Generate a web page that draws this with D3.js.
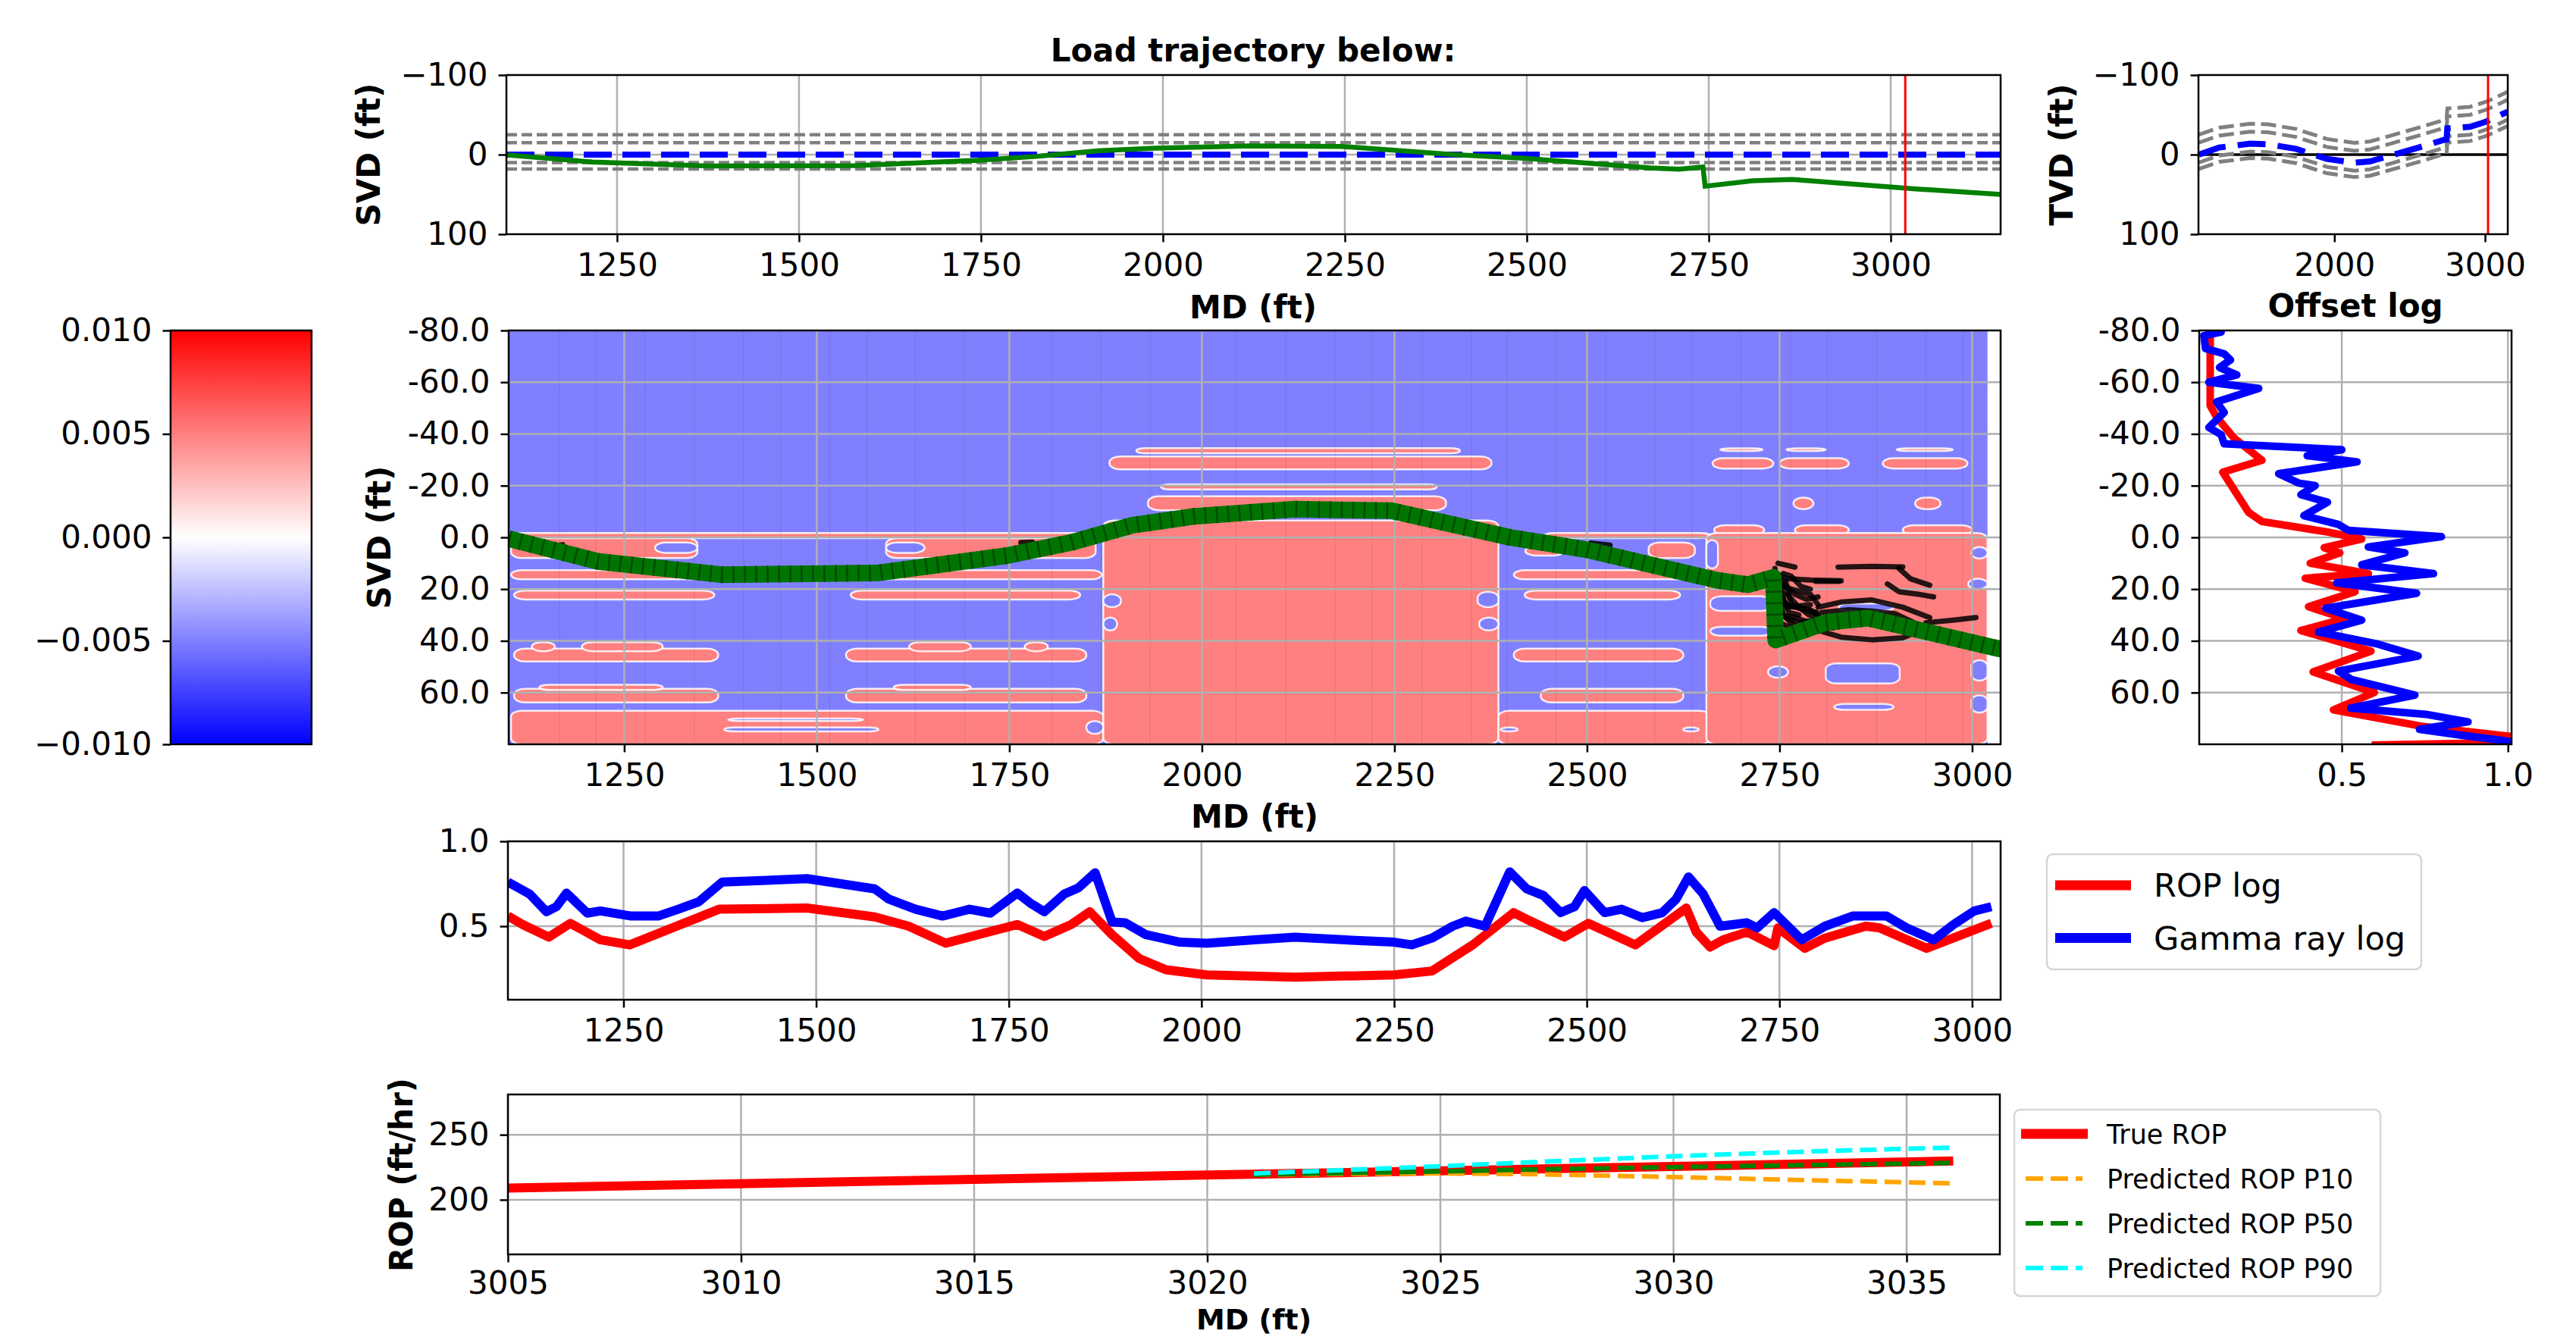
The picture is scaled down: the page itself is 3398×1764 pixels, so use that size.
<!DOCTYPE html>
<html>
<head>
<meta charset="utf-8">
<script src="https://cdn.jsdelivr.net/npm/d3@7"></script>
<style>
  body { margin: 0; background: #fff; }
  text { font-family: "DejaVu Sans", sans-serif; }
</style>
</head>
<body>
<svg id="chart" width="3398" height="1764"></svg>
<script>
// ---------------- data ----------------
// well trajectory, [MD ft, SVD ft]
const trajectory = [[1100,0.5],[1216,9.3],[1376,14.4],[1578,13.8],[1746,7.1],[1830,2],[1910,-4.7],[1989,-8.1],
  [2120,-10.9],[2246,-10.3],[2400,0],[2500,4.8],[2669,16.6],[2709,18.3],[2742,15.5],[2745,39.7],[2810,32.9],
  [2865,31.2],[3034,43],[3151,50]];
// layer boundaries, relative to target layer (ft)
const boundaryOffsets = [-25, -15, 10, 18];
// target layer TVD, [MD, TVD]
const targetTVD = [[1100,0],[1235,-8.9],[1440,-13.7],[1560,-13],[1745,-7.3],[1950,5.4],[2133,10.2],[2235,8.6],
  [2355,2.2],[2560,-8.9],[2725,-18.4],[2745,-19],[2750,-33],[2900,-35],[3000,-41],[3050,-45],[3151,-54]];
const bitMD = 3020;

// colour bar
const cbTicks = [0.01, 0.005, 0, -0.005, -0.01];

// earth model image, [MD0, MD1, SVD0, SVD1, value]
const modelBackground = [1100, 3020, -80, 80, -0.01];
const modelCells = [
  [1103,1860,-1.7,0.3,0.01],[1103,1345,0.3,8,0.01],[1590,1862,0.3,8,0.01],[1103,1870,12.7,16.2,0.01],
  [1107,1367,20.6,24,0.01],[1544,1842,20.6,24,0.01],[1107,1372,43,48,0.01],[1130,1160,40.5,44,0.01],
  [1195,1300,40.5,44,0.01],[1538,1850,43,48,0.01],[1620,1700,40.5,44,0.01],[1770,1800,40.5,44,0.01],
  [1107,1372,58.5,63.8,0.01],[1140,1300,57,59,0.01],[1538,1850,58.5,63.8,0.01],[1600,1700,57,59,0.01],
  [1103,1872,67,80,0.01],
  [1915,2335,-34.5,-32.5,0.01],[1880,2376,-31.3,-26.3,0.01],[1947,2305,-20.5,-18.5,0.01],
  [1930,2317,-15.9,-10.5,0.01],[1872,2385,-6.5,80,0.01],
  [2445,2660,-1.7,0.3,0.01],[2420,2470,3.5,7,0.01],[2580,2640,2,8,0.01],[2405,2670,12.7,16.2,0.01],
  [2419,2621,20.6,24,0.01],[2405,2625,43,48,0.01],[2440,2625,58.5,63.8,0.01],[2385,2660,67,80,0.01],
  [2673,2728,-34.4,-33.4,0.01],[2759,2810,-34.4,-33.4,0.01],[2902,2975,-34.4,-33.4,0.01],
  [2663,2742,-30.6,-26.6,0.01],[2750,2840,-30.6,-26.6,0.01],[2884,2994,-30.6,-26.6,0.01],
  [2768,2794,-15.4,-10.9,0.01],[2926,2959,-15.4,-10.9,0.01],
  [2665,2730,-4.7,-1,0.01],[2770,2840,-4.7,-1,0.01],[2910,3000,-4.7,-1,0.01],[2655,3020,-1.7,80,0.01],
  [1290,1345,2,6,-0.01],[1590,1640,2,6,-0.01],[1385,1560,70,71,-0.01],[1380,1580,73.5,75,-0.01],
  [1850,1872,71,76,-0.01],[1872,1895,22,27,-0.01],[1872,1890,31,36,-0.01],[2358,2385,21,27,-0.01],
  [2360,2385,31,36,-0.01],[2388,2410,73.5,75,-0.01],[2625,2645,73.5,75,-0.01],[2655,2670,1,12,-0.01],
  [2660,2740,22.8,28.4,-0.01],[2660,2740,34.6,38,-0.01],[2810,2906,48.7,56.5,-0.01],
  [2821,2898,64.4,66.7,-0.01],[2735,2761,49.8,54.3,-0.01],[2827,2898,25.6,28.4,-0.01],
  [2999,3020,3.7,8.2,-0.01],[2995,3020,16,20,-0.01],[2999,3020,47.5,55.4,-0.01],[2999,3020,61,67.8,-0.01]
];
const columnEdges = [1166,1213,1277,1341,1405,1453,1517,1565,1628,1692,1805,1869,1933,2044,2109,2173,2221,
  2286,2350,2396,2460,2524,2588,2636,2700,2764,2812,2876,2940,2988];

// candidate trajectories drawn in black
const ensembleLines = [
  [[2744,12],[2748,22],[2755,30],[2768,34]],
  [[2746,14],[2760,16],[2790,16.5],[2830,16.8]],
  [[2746,18],[2765,20],[2790,22],[2800,26]],
  [[2747,25],[2770,27],[2790,28],[2800,30]],
  [[2748,30],[2770,31],[2800,34],[2820,35]],
  [[2746,15],[2752,22],[2760,27],[2790,26]],
  [[2747,20],[2756,18],[2770,22],[2785,24],[2800,23]],
  [[2749,28],[2758,31],[2775,33],[2795,32]],
  [[2750,33],[2765,35],[2785,36],[2800,35]],
  [[2755,14],[2765,15],[2778,19],[2790,20]],
  [[2760,22],[2772,26],[2788,30],[2802,31]],
  [[2748,10],[2770,11.5]],
  [[2797,17],[2827,17]],
  [[2826,11.5],[2870,11.2],[2910,11.4]],
  [[2800,27],[2830,25],[2870,24.2],[2910,27],[2945,31]],
  [[2805,29],[2840,28],[2870,28.5],[2900,29.5],[2925,33]],
  [[2795,35.5],[2830,38.6],[2870,39.6],[2910,38.8],[2940,35]],
  [[2905,12],[2920,16],[2945,18.5]],
  [[2890,18],[2905,21],[2930,22],[2950,23]],
  [[2940,33],[2975,32],[3005,31]],
  [[2752,16],[2755,24],[2762,29],[2775,30]],
  [[2758,17],[2765,26],[2780,28],[2798,29]],
  [[1150,2],[1160,3.5],[1170,2.8]],
  [[1155,5],[1162,6]],
  [[1765,2],[1780,1.8]],
  [[1795,5],[1810,4.5]],
  [[2505,2.2],[2530,3]]
];

// offset logs, [SVD, value]
const offsetRop = [[-80,0.104],[-51,0.104],[-46.6,0.123],[-38.5,0.175],[-29.8,0.26],[-25.2,0.142],[-9.6,0.22],
  [-6.1,0.26],[-2.1,0.457],[0.6,0.56],[4,0.447],[6,0.494],[10,0.405],[14,0.58],[15.8,0.39],[21,0.54],
  [26.8,0.40],[31.4,0.51],[36,0.377],[44,0.588],[52,0.414],[60,0.598],[66.7,0.475],[73,0.74],[77,1.01],
  [78.8,1.2],[80.3,0.59]];
const offsetGamma = [[-79.4,0.137],[-78,0.085],[-73,0.09],[-71,0.146],[-68.6,0.165],[-65.7,0.132],[-62.8,0.184],
  [-60,0.1],[-57.6,0.25],[-52.4,0.123],[-48.3,0.146],[-42.5,0.1],[-39.7,0.137],[-36.2,0.146],[-33.9,0.5],
  [-31.6,0.396],[-29.2,0.546],[-24.6,0.31],[-21,0.37],[-20,0.42],[-16.5,0.377],[-13.6,0.457],[-8.4,0.386],
  [-5,0.49],[-2.7,0.52],[-0.3,0.8],[3.7,0.58],[6,0.69],[10.6,0.56],[14,0.776],[17.6,0.485],[21.6,0.725],
  [27.4,0.452],[32,0.56],[36.6,0.43],[41.3,0.61],[45.9,0.73],[51.7,0.49],[55,0.53],[58,0.626],[61,0.72],
  [66,0.527],[68.4,0.753],[71.3,0.88],[74.2,0.734],[76.5,0.86],[78.8,1.0],[80,1.0]];

// logs along the well, [MD, value]
const ropLog = [[1100,0.56],[1119,0.51],[1153,0.436],[1181,0.517],[1220,0.42],[1258,0.39],[1374,0.6],[1488,0.607],
  [1576,0.555],[1620,0.5],[1668,0.4],[1761,0.51],[1796,0.44],[1831,0.51],[1855,0.585],[1884,0.45],[1919,0.31],
  [1954,0.243],[2007,0.213],[2121,0.2],[2250,0.213],[2299,0.236],[2352,0.39],[2405,0.58],[2427,0.53],
  [2471,0.436],[2502,0.517],[2563,0.39],[2629,0.607],[2642,0.466],[2660,0.377],[2677,0.42],[2708,0.466],
  [2743,0.385],[2748,0.49],[2783,0.37],[2809,0.43],[2862,0.5],[2880,0.49],[2941,0.37],[3025,0.517]];
const gammaLog = [[1100,0.76],[1128,0.69],[1150,0.585],[1163,0.615],[1176,0.695],[1203,0.577],[1220,0.59],
  [1260,0.56],[1295,0.56],[1321,0.6],[1348,0.645],[1378,0.76],[1488,0.78],[1576,0.72],[1594,0.66],[1629,0.6],
  [1664,0.56],[1699,0.6],[1726,0.577],[1761,0.695],[1778,0.636],[1796,0.585],[1822,0.69],[1840,0.725],
  [1862,0.815],[1884,0.525],[1901,0.52],[1928,0.45],[1972,0.406],[2007,0.40],[2068,0.42],[2121,0.435],
  [2211,0.414],[2250,0.406],[2273,0.39],[2299,0.43],[2326,0.5],[2343,0.53],[2368,0.5],[2387,0.69],[2400,0.82],
  [2422,0.72],[2444,0.68],[2466,0.58],[2484,0.615],[2497,0.71],[2523,0.58],[2545,0.6],[2572,0.55],[2598,0.58],
  [2616,0.66],[2632,0.79],[2651,0.69],[2673,0.5],[2708,0.52],[2721,0.49],[2743,0.58],[2779,0.42],[2809,0.5],
  [2845,0.56],[2889,0.56],[2915,0.49],[2950,0.42],[2976,0.51],[3003,0.59],[3025,0.615]];
const logLegend = [["ROP log", "#ff0000"], ["Gamma ray log", "#0000ff"]];

// ROP forecast, [MD, ft/hr]
const trueRop = [[3005,209],[3010,212.4],[3015,215.7],[3020,219],[3025,222.3],[3030,225.6],[3036,229.8]];
const ropP10 = [[3021,219.2],[3023,219.9],[3025,220.3],[3027,219.7],[3030,217.5],[3033,215],[3036,212.6]];
const ropP50 = [[3021,219.2],[3023,220.6],[3025,221.8],[3027,223.3],[3030,225.1],[3033,226.8],[3036,228.4]];
const ropP90 = [[3021,220.3],[3023,223],[3025,225.8],[3027,229],[3030,233.5],[3033,237.3],[3036,240.2]];
const ropLegend = [["True ROP", "#ff0000", false], ["Predicted ROP P10", "#ffa500", true],
  ["Predicted ROP P50", "#008000", true], ["Predicted ROP P90", "#00ffff", true]];

// ---------------- drawing ----------------
var svg = d3.select("#chart");
var FS = 42;
var GRID = "#b0b0b0";

function clip(id, x0, y0, x1, y1) {
  svg.append("clipPath").attr("id", id).append("rect")
    .attr("x", x0).attr("y", y0).attr("width", x1 - x0).attr("height", y1 - y0);
  return svg.append("g").attr("clip-path", "url(#" + id + ")");
}

function frame(x0, y0, x1, y1) {
  svg.append("rect").attr("x", x0).attr("y", y0).attr("width", x1 - x0).attr("height", y1 - y0)
    .attr("fill", "none").attr("stroke", "#000").attr("stroke-width", 2.5);
}

function xAxis(scale, y, ticks, fmt, pad) {
  var g = svg.append("g").attr("transform", "translate(0," + y + ")")
    .call(d3.axisBottom(scale).tickValues(ticks).tickFormat(fmt).tickSize(10.5).tickPadding(pad || 15));
  g.select(".domain").remove();
  g.selectAll("line").attr("stroke-width", 2.5);
  g.selectAll("text").attr("font-size", FS).attr("font-family", "DejaVu Sans");
}

function yAxis(scale, x, ticks, fmt) {
  var g = svg.append("g").attr("transform", "translate(" + x + ",0)")
    .call(d3.axisLeft(scale).tickValues(ticks).tickFormat(fmt).tickSize(10.5).tickPadding(14));
  g.select(".domain").remove();
  g.selectAll("line").attr("stroke-width", 2.5);
  g.selectAll("text").attr("font-size", FS).attr("font-family", "DejaVu Sans");
}

function grid(g, xScale, yScale, xt, yt) {
  var xr = xScale.range(), yr = yScale.range();
  g.selectAll(null).data(xt).enter().append("line")
    .attr("x1", d => xScale(d)).attr("x2", d => xScale(d)).attr("y1", yr[0]).attr("y2", yr[1])
    .attr("stroke", GRID).attr("stroke-width", 2.5);
  g.selectAll(null).data(yt).enter().append("line")
    .attr("y1", d => yScale(d)).attr("y2", d => yScale(d)).attr("x1", xr[0]).attr("x2", xr[1])
    .attr("stroke", GRID).attr("stroke-width", 2.5);
}

function label(txt, x, y, rot, size) {
  svg.append("text").text(txt).attr("x", x).attr("y", y)
    .attr("font-size", size || FS).attr("font-weight", "bold").attr("text-anchor", "middle")
    .attr("transform", rot ? "rotate(-90," + x + "," + y + ")" : null);
}

var mdTicks = [1250, 1500, 1750, 2000, 2250, 2500, 2750, 3000];
var svdTicks = [-80, -60, -40, -20, 0, 20, 40, 60];
var fix1 = d => d.toFixed(1);

// ---- top panel: trajectory vs layer boundaries ----
var xTop = d3.scaleLinear().domain([1098, 3151]).range([668, 2639]);
var yTop = d3.scaleLinear().domain([-100, 100]).range([99, 309]);
var gTop = clip("cTop", 668, 99, 2639, 309);
grid(gTop, xTop, yTop, mdTicks, [0]);
var hline = d3.line().x(d => xTop(d[0])).y(d => yTop(d[1]));
boundaryOffsets.forEach(function(o) {
  gTop.append("path").attr("d", hline([[1098, o], [3151, o]])).attr("fill", "none")
    .attr("stroke", "#808080").attr("stroke-width", 4.5).attr("stroke-dasharray", "14,6");
});
gTop.append("path").attr("d", hline([[1098, 0], [3151, 0]])).attr("fill", "none")
  .attr("stroke", "#0000ff").attr("stroke-width", 8).attr("stroke-dasharray", "37,14");
gTop.append("path").attr("d", hline(trajectory)).attr("fill", "none")
  .attr("stroke", "#008000").attr("stroke-width", 6.5);
gTop.append("line").attr("x1", xTop(bitMD)).attr("x2", xTop(bitMD)).attr("y1", 99).attr("y2", 309)
  .attr("stroke", "#ff0000").attr("stroke-width", 3);
frame(668, 99, 2639, 309);
xAxis(xTop, 309, mdTicks, d3.format("d"));
yAxis(yTop, 668, [-100, 0, 100], d3.format("d"));
label("Load trajectory below:", 1653, 81);
label("MD (ft)", 1653, 420);
label("SVD (ft)", 501, 204, true);

// ---- top right: TVD ----
var xTvd = d3.scaleLinear().domain([1098, 3151]).range([2900, 3308]);
var yTvd = d3.scaleLinear().domain([-100, 100]).range([99, 309]);
var gTvd = clip("cTvd", 2900, 99, 3308, 309);
var tline = d3.line().x(d => xTvd(d[0])).y(d => yTvd(d[1]));
gTvd.append("line").attr("x1", 2900).attr("x2", 3308).attr("y1", yTvd(0)).attr("y2", yTvd(0))
  .attr("stroke", "#000").attr("stroke-width", 3.5);
boundaryOffsets.forEach(function(o) {
  gTvd.append("path").attr("d", tline(targetTVD.map(d => [d[0], d[1] + o]))).attr("fill", "none")
    .attr("stroke", "#808080").attr("stroke-width", 5).attr("stroke-dasharray", "20,8");
});
gTvd.append("path").attr("d", tline(targetTVD)).attr("fill", "none")
  .attr("stroke", "#0000ff").attr("stroke-width", 8).attr("stroke-dasharray", "37,16");
gTvd.append("line").attr("x1", xTvd(bitMD)).attr("x2", xTvd(bitMD)).attr("y1", 99).attr("y2", 309)
  .attr("stroke", "#ff0000").attr("stroke-width", 3);
frame(2900, 99, 3308, 309);
xAxis(xTvd, 309, [2000, 3000], d3.format("d"));
yAxis(yTvd, 2900, [-100, 0, 100], d3.format("d"));
label("TVD (ft)", 2734, 204, true);

// ---- colour bar ----
var bwr = d3.scaleLinear().domain([-0.01, 0, 0.01]).range(["#0000ff", "#ffffff", "#ff0000"]);
var yCb = d3.scaleLinear().domain([-0.01, 0.01]).range([982, 436]);
var grad = svg.append("defs").append("linearGradient").attr("id", "cbGrad")
  .attr("x1", 0).attr("y1", 1).attr("x2", 0).attr("y2", 0);
d3.range(0, 1.0001, 0.1).forEach(function(t) {
  grad.append("stop").attr("offset", t).attr("stop-color", bwr(-0.01 + 0.02 * t));
});
svg.append("rect").attr("x", 225).attr("y", 436).attr("width", 186).attr("height", 546)
  .attr("fill", "url(#cbGrad)");
frame(225, 436, 411, 982);
yAxis(yCb, 225, cbTicks, d3.format(".3f"));

// ---- earth model ----
var xMid = d3.scaleLinear().domain([1100, 3037]).range([671, 2639]);
var yMid = d3.scaleLinear().domain([-80, 80]).range([436, 982]);
var cellColor = v => d3.interpolateRgb("#ffffff", bwr(v))(0.5);
var gMid = clip("cMid", 671, 436, 2639, 982);
gMid.append("rect").attr("x", xMid(modelBackground[0])).attr("y", yMid(modelBackground[2]))
  .attr("width", xMid(modelBackground[1]) - xMid(modelBackground[0]))
  .attr("height", yMid(modelBackground[3]) - yMid(modelBackground[2]))
  .attr("fill", cellColor(modelBackground[4]));
gMid.selectAll(".cell").data(modelCells).enter().append("rect").attr("class", "cell")
  .attr("x", d => xMid(d[0])).attr("y", d => yMid(d[2]))
  .attr("width", d => xMid(d[1]) - xMid(d[0])).attr("height", d => yMid(d[3]) - yMid(d[2]))
  .attr("rx", d => Math.min(14, (xMid(d[1]) - xMid(d[0])) / 2))
  .attr("ry", d => Math.min(8, (yMid(d[3]) - yMid(d[2])) / 2))
  .attr("fill", d => cellColor(d[4]))
  .attr("stroke", "#ffffff").attr("stroke-width", 2.5).attr("stroke-opacity", 0.85);
gMid.selectAll(".col").data(columnEdges).enter().append("line").attr("class", "col")
  .attr("x1", d => xMid(d)).attr("x2", d => xMid(d)).attr("y1", 436).attr("y2", 982)
  .attr("stroke", "#000").attr("stroke-opacity", 0.07).attr("stroke-width", 1.5);
grid(gMid, xMid, yMid, mdTicks, svdTicks.slice(1));
var mline = d3.line().x(d => xMid(d[0])).y(d => yMid(d[1]));
gMid.selectAll(".ens").data(ensembleLines).enter().append("path").attr("class", "ens")
  .attr("d", mline).attr("fill", "none").attr("stroke", "#000").attr("stroke-opacity", 0.85)
  .attr("stroke-width", 7).attr("stroke-linecap", "round").attr("stroke-linejoin", "round");
gMid.append("path").attr("d", mline(trajectory)).attr("fill", "none")
  .attr("stroke", "#007400").attr("stroke-width", 22).attr("stroke-linejoin", "round");
gMid.append("path").attr("d", mline(trajectory)).attr("fill", "none")
  .attr("stroke", "#004c00").attr("stroke-width", 22).attr("stroke-dasharray", "2.5,12.5");
frame(671, 436, 2639, 982);
xAxis(xMid, 982, mdTicks, d3.format("d"));
yAxis(yMid, 671, svdTicks, fix1);
label("MD (ft)", 1655, 1092);
label("SVD (ft)", 515, 709, true);

// ---- offset log ----
var xOff = d3.scaleLinear().domain([0.071, 1.011]).range([2901, 3313]);
var yOff = d3.scaleLinear().domain([-80, 80]).range([436, 982]);
var gOff = clip("cOff", 2901, 436, 3313, 982);
grid(gOff, xOff, yOff, [0.5, 1.0], svdTicks.slice(1));
var oline = d3.line().x(d => xOff(d[1])).y(d => yOff(d[0]));
gOff.append("path").attr("d", oline(offsetRop)).attr("fill", "none").attr("stroke", "#ff0000")
  .attr("stroke-width", 10).attr("stroke-linejoin", "round");
gOff.append("path").attr("d", oline(offsetGamma)).attr("fill", "none").attr("stroke", "#0000ff")
  .attr("stroke-width", 10).attr("stroke-linejoin", "round").attr("stroke-linecap", "round");
frame(2901, 436, 3313, 982);
xAxis(xOff, 982, [0.5, 1.0], fix1);
yAxis(yOff, 2901, svdTicks, fix1);
label("Offset log", 3107, 418);

// ---- logs along the well ----
var xLog = d3.scaleLinear().domain([1100, 3037]).range([670, 2639]);
var yLog = d3.scaleLinear().domain([0.067, 1.0]).range([1319, 1110]);
var gLog = clip("cLog", 670, 1110, 2639, 1319);
grid(gLog, xLog, yLog, mdTicks, [0.5, 1.0]);
var lline = d3.line().x(d => xLog(d[0])).y(d => yLog(d[1]));
gLog.append("path").attr("d", lline(ropLog)).attr("fill", "none").attr("stroke", "#ff0000")
  .attr("stroke-width", 12).attr("stroke-linejoin", "round");
gLog.append("path").attr("d", lline(gammaLog)).attr("fill", "none").attr("stroke", "#0000ff")
  .attr("stroke-width", 12).attr("stroke-linejoin", "round");
frame(670, 1110, 2639, 1319);
xAxis(xLog, 1319, mdTicks, d3.format("d"));
yAxis(yLog, 670, [0.5, 1.0], fix1);

var lg1 = svg.append("g");
lg1.append("rect").attr("x", 2700).attr("y", 1127).attr("width", 494).attr("height", 152).attr("rx", 8)
  .attr("fill", "#fff").attr("stroke", "#d6d6d6").attr("stroke-width", 2.5);
logLegend.forEach(function(d, i) {
  var y = 1168 + i * 69.5;
  lg1.append("line").attr("x1", 2711).attr("x2", 2811).attr("y1", y).attr("y2", y)
    .attr("stroke", d[1]).attr("stroke-width", 13);
  lg1.append("text").text(d[0]).attr("x", 2841).attr("y", y).attr("dy", "0.36em").attr("font-size", 43);
});

// ---- ROP forecast ----
var xRop = d3.scaleLinear().domain([3005, 3037]).range([670, 2638]);
var yRop = d3.scaleLinear().domain([158, 281]).range([1655, 1444]);
var gRop = clip("cRop", 670, 1444, 2638, 1655);
grid(gRop, xRop, yRop, [3005, 3010, 3015, 3020, 3025, 3030, 3035], [200, 250]);
var rline = d3.line().x(d => xRop(d[0])).y(d => yRop(d[1]));
gRop.append("path").attr("d", rline(trueRop)).attr("fill", "none").attr("stroke", "#ff0000")
  .attr("stroke-width", 12);
[[ropP10, "#ffa500"], [ropP50, "#008000"], [ropP90, "#00ffff"]].forEach(function(s) {
  gRop.append("path").attr("d", rline(s[0])).attr("fill", "none").attr("stroke", s[1])
    .attr("stroke-width", 6).attr("stroke-dasharray", "22,10");
});
frame(670, 1444, 2638, 1655);
xAxis(xRop, 1655, [3005, 3010, 3015, 3020, 3025, 3030, 3035], d3.format("d"), 12);
yAxis(yRop, 670, [200, 250], d3.format("d"));
label("MD (ft)", 1654, 1754, false, 38);
label("ROP (ft/hr)", 544, 1550, true);

var lg2 = svg.append("g");
lg2.append("rect").attr("x", 2657).attr("y", 1464).attr("width", 483).attr("height", 246).attr("rx", 8)
  .attr("fill", "#fff").attr("stroke", "#d6d6d6").attr("stroke-width", 2.5);
ropLegend.forEach(function(d, i) {
  var y = 1496 + i * 59;
  lg2.append("line").attr("x1", d[2] ? 2672 : 2666).attr("x2", d[2] ? 2747 : 2754).attr("y1", y).attr("y2", y)
    .attr("stroke", d[1]).attr("stroke-width", d[2] ? 6 : 13)
    .attr("stroke-dasharray", d[2] ? "23,10" : null);
  lg2.append("text").text(d[0]).attr("x", 2779).attr("y", y).attr("dy", "0.36em").attr("font-size", 35);
});
</script>
</body>
</html>
